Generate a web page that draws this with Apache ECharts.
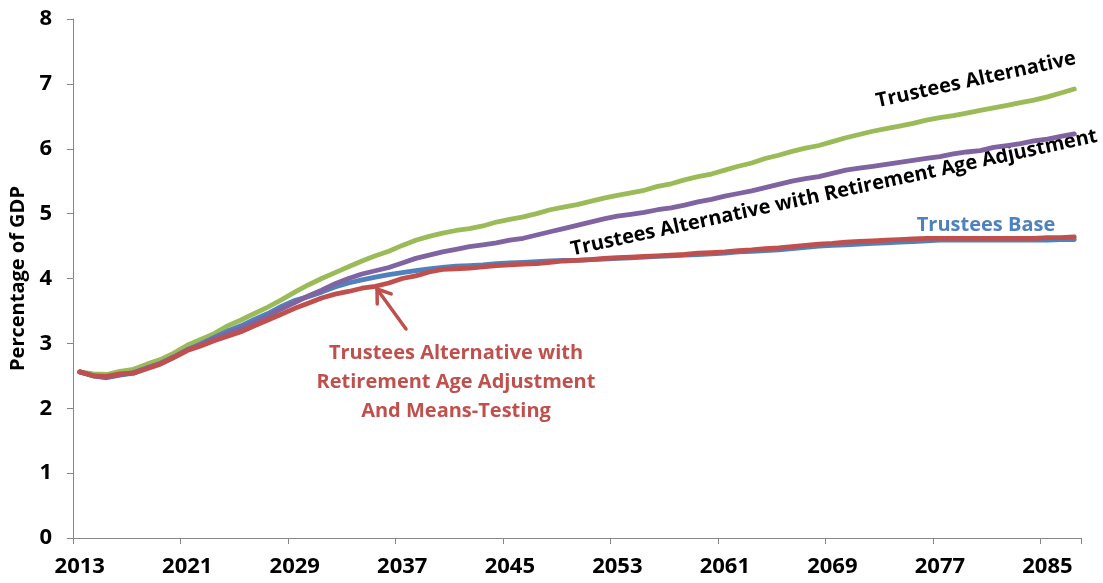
<!DOCTYPE html>
<html>
<head>
<meta charset="utf-8">
<title>Percentage of GDP projections</title>
<script src="https://cdn.jsdelivr.net/npm/echarts@6/dist/echarts.min.js"></script>
<style>
  html, body { margin: 0; padding: 0; background: #ffffff; }
  #chart { width: 1103px; height: 583px; }
</style>
</head>
<body>
<div id="chart"></div>
<script>
// Years 2013 .. 2087
const years = [];
for (let y = 2013; y <= 2087; y++) years.push(String(y));

// Percentage of GDP, one value per year
const trusteesBase = [
  2.56, 2.50, 2.47, 2.51, 2.54, 2.62, 2.69, 2.79, 2.90, 2.99,
  3.09, 3.19, 3.27, 3.37, 3.46, 3.57, 3.66, 3.72, 3.79, 3.87,
  3.93, 3.98, 4.02, 4.06, 4.09, 4.12, 4.15, 4.17, 4.19, 4.20,
  4.21, 4.23, 4.24, 4.25, 4.26, 4.27, 4.28, 4.28, 4.29, 4.30,
  4.31, 4.32, 4.33, 4.34, 4.35, 4.36, 4.37, 4.38, 4.39, 4.41,
  4.42, 4.43, 4.44, 4.46, 4.48, 4.50, 4.51, 4.52, 4.53, 4.54,
  4.55, 4.56, 4.57, 4.58, 4.59, 4.59, 4.59, 4.59, 4.59, 4.59,
  4.59, 4.59, 4.59, 4.60, 4.60
];

const trusteesAlternative = [
  2.56, 2.53, 2.52, 2.57, 2.60, 2.68, 2.75, 2.85, 2.97, 3.06,
  3.15, 3.27, 3.36, 3.46, 3.56, 3.67, 3.79, 3.90, 4.00, 4.09,
  4.18, 4.27, 4.35, 4.42, 4.51, 4.59, 4.65, 4.70, 4.74, 4.77,
  4.81, 4.87, 4.91, 4.95, 5.00, 5.06, 5.10, 5.14, 5.19, 5.24,
  5.28, 5.32, 5.36, 5.42, 5.46, 5.52, 5.57, 5.61, 5.67, 5.73,
  5.78, 5.85, 5.90, 5.96, 6.01, 6.05, 6.11, 6.17, 6.22, 6.27,
  6.31, 6.35, 6.39, 6.44, 6.48, 6.51, 6.55, 6.59, 6.63, 6.67,
  6.71, 6.75, 6.80, 6.86, 6.92
];

const altRetirementAge = [
  2.56, 2.50, 2.48, 2.52, 2.55, 2.62, 2.69, 2.79, 2.90, 2.98,
  3.07, 3.15, 3.23, 3.32, 3.42, 3.53, 3.63, 3.73, 3.82, 3.92,
  4.00, 4.07, 4.12, 4.17, 4.24, 4.31, 4.36, 4.41, 4.45, 4.49,
  4.52, 4.55, 4.59, 4.62, 4.67, 4.72, 4.77, 4.82, 4.87, 4.92,
  4.96, 4.99, 5.02, 5.06, 5.09, 5.13, 5.18, 5.22, 5.27, 5.31,
  5.35, 5.40, 5.45, 5.50, 5.54, 5.57, 5.62, 5.67, 5.70, 5.73,
  5.76, 5.79, 5.82, 5.85, 5.88, 5.92, 5.95, 5.97, 6.02, 6.05,
  6.08, 6.12, 6.15, 6.19, 6.23
];

const altRetirementMeans = [
  2.56, 2.50, 2.49, 2.53, 2.54, 2.61, 2.68, 2.78, 2.89, 2.96,
  3.04, 3.11, 3.18, 3.27, 3.36, 3.45, 3.54, 3.62, 3.70, 3.76,
  3.80, 3.85, 3.88, 3.93, 4.00, 4.04, 4.10, 4.14, 4.15, 4.16,
  4.18, 4.20, 4.21, 4.22, 4.23, 4.25, 4.27, 4.28, 4.29, 4.31,
  4.32, 4.33, 4.34, 4.35, 4.36, 4.37, 4.39, 4.40, 4.41, 4.43,
  4.44, 4.46, 4.47, 4.49, 4.51, 4.53, 4.54, 4.56, 4.57, 4.58,
  4.59, 4.60, 4.61, 4.62, 4.62, 4.62, 4.62, 4.62, 4.62, 4.62,
  4.62, 4.62, 4.63, 4.63, 4.64
];

const yTicks = { min: 0, max: 8, interval: 1 };

const FONT = '"Open Sans", "Noto Sans", sans-serif';
const AXIS_GRAY = '#868686';
const COLORS = {
  base: '#4F81BD',
  alt: '#9BBB59',
  altRet: '#8064A2',
  altRetMeans: '#C0504D'
};

function lineSeries(name, data, color) {
  return {
    name: name,
    type: 'line',
    data: data,
    symbol: 'none',
    smooth: false,
    lineStyle: { color: color, width: 4.8, cap: 'round', join: 'round' },
    itemStyle: { color: color },
    emphasis: { disabled: true },
    animation: false
  };
}

// Open arrowhead pointing at the means-tested line
function arrowGraphic(tail, tip, color) {
  const dx = tail[0] - tip[0], dy = tail[1] - tip[1];
  const base = Math.atan2(dy, dx);
  const len = 15, spread = 35 * Math.PI / 180;
  const a1 = [tip[0] + len * Math.cos(base - spread), tip[1] + len * Math.sin(base - spread)];
  const a2 = [tip[0] + len * Math.cos(base + spread), tip[1] + len * Math.sin(base + spread)];
  const stroke = { stroke: color, lineWidth: 3.5, lineCap: 'round', lineJoin: 'round', fill: null };
  return [
    { type: 'line', shape: { x1: tail[0], y1: tail[1], x2: tip[0], y2: tip[1] }, style: stroke, silent: true },
    { type: 'polyline', shape: { points: [a1, tip, a2] }, style: stroke, silent: true }
  ];
}

const deg = Math.PI / 180;
const textBold = { fontFamily: FONT, fontWeight: 'bold', fontSize: 20 };

const chart = echarts.init(document.getElementById('chart'), null, { renderer: 'canvas' });

chart.setOption({
  backgroundColor: '#ffffff',
  animation: false,
  grid: { left: 73, right: 22, top: 19, bottom: 45, containLabel: false },
  xAxis: {
    type: 'category',
    data: years,
    boundaryGap: true,
    axisLine: { lineStyle: { color: AXIS_GRAY, width: 1 } },
    axisTick: { show: true, interval: 7, length: 6, lineStyle: { color: AXIS_GRAY } },
    axisLabel: {
      interval: 7,
      margin: 18,
      color: '#000000',
      fontFamily: FONT,
      fontWeight: 'bold',
      fontSize: 22
    },
    splitLine: { show: false }
  },
  yAxis: {
    type: 'value',
    min: yTicks.min,
    max: yTicks.max,
    interval: yTicks.interval,
    name: 'Percentage of GDP',
    nameLocation: 'middle',
    nameGap: 44,
    nameTextStyle: { color: '#000000', fontFamily: FONT, fontWeight: 'bold', fontSize: 20 },
    axisLine: { show: true, lineStyle: { color: AXIS_GRAY, width: 1 } },
    axisTick: { show: true, length: 6, lineStyle: { color: AXIS_GRAY } },
    axisLabel: {
      margin: 21,
      color: '#000000',
      fontFamily: FONT,
      fontWeight: 'bold',
      fontSize: 22
    },
    splitLine: { show: false }
  },
  series: [
    lineSeries('Trustees Alternative', trusteesAlternative, COLORS.alt),
    lineSeries('Trustees Base', trusteesBase, COLORS.base),
    lineSeries('Trustees Alternative with Retirement Age Adjustment', altRetirementAge, COLORS.altRet),
    lineSeries('Trustees Alternative with Retirement Age Adjustment And Means-Testing', altRetirementMeans, COLORS.altRetMeans)
  ],
  graphic: [
    {
      type: 'text', x: 976, y: 80, rotation: 12.3 * deg, silent: true,
      style: Object.assign({ text: 'Trustees Alternative', fill: '#000000', align: 'center', verticalAlign: 'middle' }, textBold)
    },
    {
      type: 'text', x: 834, y: 193, rotation: 12.2 * deg, silent: true,
      style: Object.assign({ text: 'Trustees Alternative with Retirement Age Adjustment', fill: '#000000', align: 'center', verticalAlign: 'middle' }, textBold)
    },
    {
      type: 'text', x: 986, y: 225, silent: true,
      style: Object.assign({ text: 'Trustees Base', fill: COLORS.base, align: 'center', verticalAlign: 'middle' }, textBold)
    },
    {
      type: 'text', x: 456, y: 382, silent: true,
      style: Object.assign({
        text: 'Trustees Alternative with\nRetirement Age Adjustment\nAnd Means-Testing',
        fill: COLORS.altRetMeans, align: 'center', verticalAlign: 'middle', lineHeight: 29
      }, textBold)
    }
  ].concat(arrowGraphic([406, 329], [377, 289], COLORS.altRetMeans))
});
</script>
</body>
</html>
